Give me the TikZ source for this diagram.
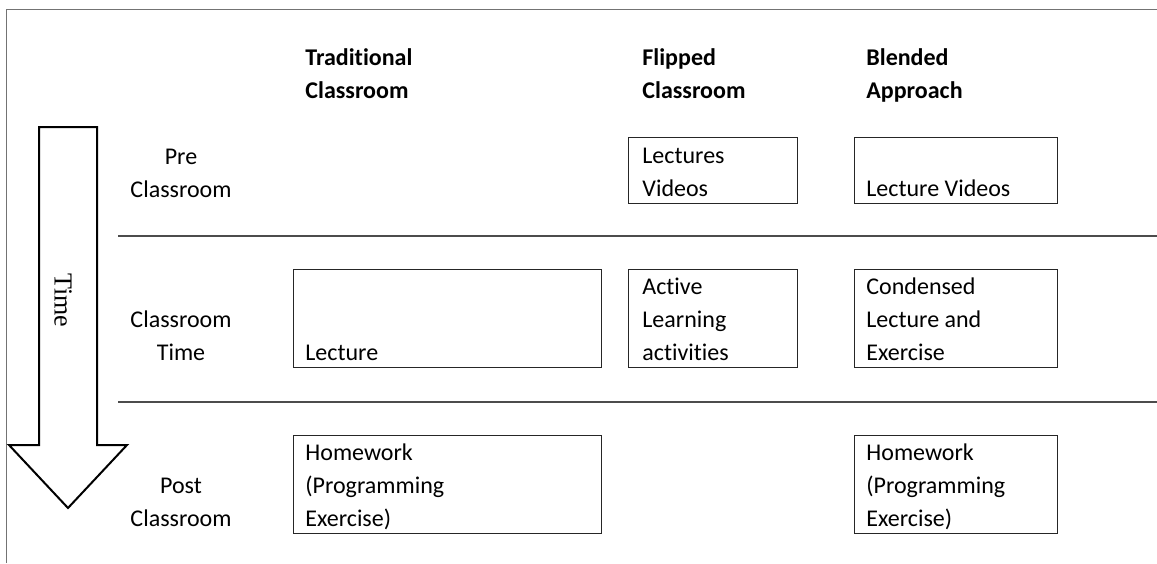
\documentclass[tikz,border=0pt]{standalone}
\usepackage{fontspec}
\setmainfont{Carlito}[Ligatures=NoCommon]
\newfontfamily\timefont{Liberation Serif}
\usetikzlibrary{positioning}

\tikzset{
	cell/.style={draw=black!85, line width=0.6pt, inner sep=0pt, anchor=north west},
	head/.style={font=\fontsize{12}{16.5}\selectfont\bfseries, align=left, anchor=base west, inner sep=0pt},
	txt/.style={font=\fontsize{12}{16.5}\selectfont, align=left, anchor=base west, inner sep=0pt},
	rowlabel/.style={font=\fontsize{12}{16.5}\selectfont, align=center, anchor=base, inner sep=0pt},
	sep/.style={draw=black!70, line width=0.6pt}
}

\begin{document}
\begin{tikzpicture}[x=0.5pt, y=-0.5pt]
			\useasboundingbox (0,0) rectangle (1157,563);
			\draw[black!55, line width=0.5pt] (6,563) -- (6,9) -- (1157,9);
			\foreach \y in {236, 402}
			\draw[sep] (118,\y) -- (1157,\y);
			
			\draw[line width=1pt] (39,127) -- (97,127) -- (97,445) -- (127,445) -- (68,508) -- (9,445) -- (39,445) -- cycle;
			\node[font=\timefont\fontsize{13}{15}\selectfont, rotate=-90, inner sep=0pt] (time) at (63,300) {Time};
			
			\node[head] (trad) at (305,98) {Traditional\\Classroom};
			\node[head] (flip) at (642,98) {Flipped\\Classroom};
			\node[head] (blend) at (866,98) {Blended\\Approach};
			
			\node[rowlabel] (pre) at (181,197) {Pre\\Classroom};
			\node[rowlabel] (during) at (181,360) {Classroom\\Time};
			\node[rowlabel] (post) at (181,526) {Post\\Classroom};
			
			\foreach \name/\x/\y/\w/\h in {preFlip/628/137/169/66, preBlend/854/137/203/66,
				classTrad/293/269/308/98, classFlip/628/269/169/98, classBlend/854/269/203/98,
				postTrad/293/435/308/98, postBlend/854/435/203/98}
			\node[cell, minimum width=0.5pt*\w, minimum height=0.5pt*\h] (\name) at (\x,\y) {};
			
			\node[txt] (preFlipText) at (642,196) {Lectures\\Videos};
			\node[txt] (preBlendText) at (866,196) {Lecture Videos};
			\node[txt] (classTradText) at (305,360) {Lecture};
			\node[txt] (classFlipText) at (642,360) {Active\\Learning\\activities};
			\node[txt] (classBlendText) at (866,360) {Condensed\\Lecture and\\Exercise};
			\node[txt] (postTradText) at (305,526) {Homework\\(Programming\\Exercise)};
			\node[txt] (postBlendText) at (866,526) {Homework\\(Programming\\Exercise)};
		\end{tikzpicture}
\end{document}
